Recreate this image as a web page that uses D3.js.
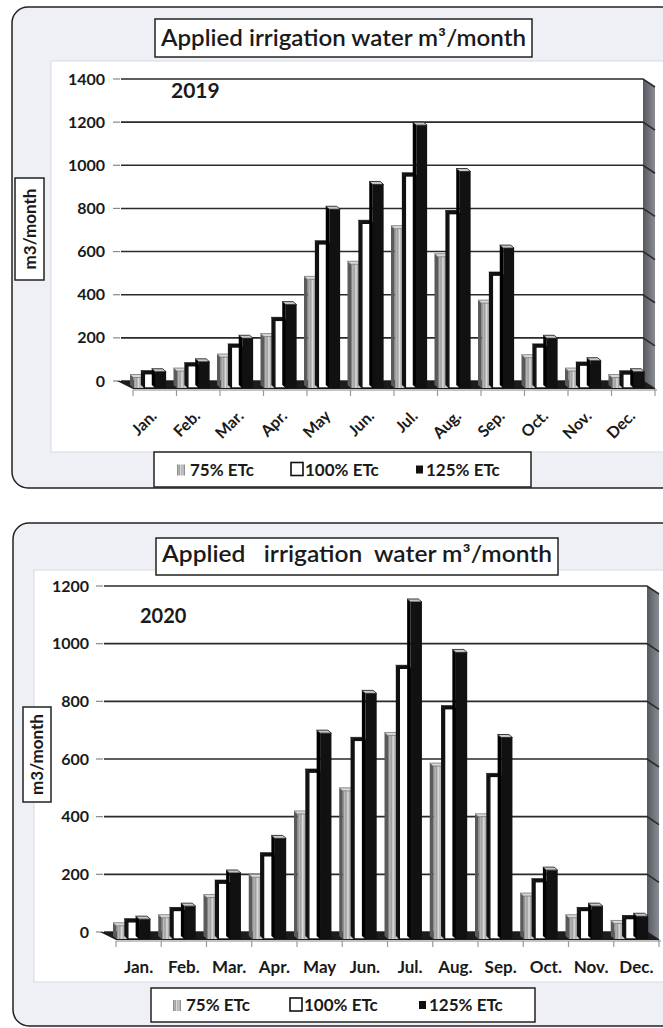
<!DOCTYPE html>
<html>
<head>
<meta charset="utf-8">
<script src="https://cdn.jsdelivr.net/npm/d3@7"></script>
<style>
  body { margin: 0; background: #ffffff; }
  text { font-family: Lato, "Open Sans", sans-serif; fill: #1a1a1a; }
</style>
</head>
<body>
<script>
// ---- data ----
var months = ["Jan.", "Feb.", "Mar.", "Apr.", "May", "Jun.", "Jul.", "Aug.", "Sep.", "Oct.", "Nov.", "Dec."];
var seriesNames = ["75% ETc", "100% ETc", "125% ETc"];

var etc75_2019  = [30, 60, 125, 220, 485, 555, 720, 590, 375, 122, 60, 30];
var etc100_2019 = [48, 85, 172, 295, 650, 745, 965, 790, 505, 172, 88, 47];
var etc125_2019 = [57, 103, 212, 368, 810, 925, 1200, 985, 630, 212, 108, 57];

var etc75_2020  = [32, 60, 130, 200, 420, 500, 692, 586, 410, 135, 60, 40];
var etc100_2020 = [46, 85, 180, 275, 565, 675, 925, 785, 550, 185, 85, 57];
var etc125_2020 = [55, 100, 215, 335, 700, 838, 1155, 980, 685, 225, 100, 65];

var yTicks2019 = [0, 200, 400, 600, 800, 1000, 1200, 1400];
var yTicks2020 = [0, 200, 400, 600, 800, 1000, 1200];

var title2019 = "Applied irrigation water m\u00B3/month";
var title2020 = "Applied   irrigation  water m\u00B3/month";
var yTitle = "m3/month";

var svg = d3.select("body").append("svg")
   .attr("width", 663)
   .attr("height", 1028);

var defs = svg.append("defs");
var gg = defs.append("linearGradient").attr("id", "grayBar")
   .attr("x1", 0).attr("x2", 1).attr("y1", 0).attr("y2", 0);
[[0, "#6e6e6e"], [0.15, "#b9b9b9"], [0.3, "#9c9c9c"], [0.45, "#dedede"], [0.6, "#ababab"],
 [0.75, "#d0d0d0"], [0.9, "#9a9a9a"], [1, "#7a7a7a"]].forEach(function (s) {
   gg.append("stop").attr("offset", s[0]).attr("stop-color", s[1]);
});
var wg = defs.append("linearGradient").attr("id", "wallGrad")
   .attr("x1", 0).attr("x2", 1).attr("y1", 0).attr("y2", 0);
wg.append("stop").attr("offset", 0).attr("stop-color", "#55585e");
wg.append("stop").attr("offset", 1).attr("stop-color", "#8a8d93");

function drawChart(c) {
   var g = svg.append("g");
   var y = d3.scaleLinear().domain([0, c.yMax]).range([c.y0, c.yTop]);
   var x = d3.scaleBand().domain(months)
      .range([c.backL + c.dx, c.backR + c.dx]);
   var bw = x.bandwidth() * 0.25;

   // outer frame + plot area
   g.append("rect")
    .attr("x", c.outer[0]).attr("y", c.outer[1])
    .attr("width", c.outer[2]).attr("height", c.outer[3])
    .attr("rx", 16)
    .attr("fill", "#eef0f6").attr("stroke", "#222").attr("stroke-width", 1.5);
   g.append("rect")
    .attr("x", c.plot[0]).attr("y", c.plot[1])
    .attr("width", c.plot[2]).attr("height", c.plot[3])
    .attr("fill", "#fff").attr("stroke", "#d6d9e0");

   // right side wall
   g.append("polygon")
    .attr("points", [[c.backR, c.yTop], [c.backR + c.dx, c.yTop + c.dy],
                     [c.backR + c.dx, c.y0 + c.dy], [c.backR, c.y0]].join(" "))
    .attr("fill", "url(#wallGrad)");

   // gridlines on back wall and wall
   g.selectAll(".grid").data(c.yTicks).enter().append("path")
    .attr("class", "grid")
    .attr("d", function (d) {
       return "M" + c.backL + "," + y(d) + "H" + c.backR + "l" + c.dx + "," + c.dy;
    })
    .attr("fill", "none").attr("stroke", "#2a2a2a").attr("stroke-width", 1.6);

   g.selectAll(".ytick").data(c.yTicks).enter().append("line")
    .attr("x1", c.backL - 8).attr("x2", c.backL - 1)
    .attr("y1", function (d) { return y(d); })
    .attr("y2", function (d) { return y(d); })
    .attr("stroke", "#888").attr("stroke-width", 1.2);

   g.selectAll(".ylab").data(c.yTicks).enter().append("text")
    .attr("x", c.labelX).attr("y", function (d) { return y(d) + 5.5; })
    .attr("text-anchor", "end")
    .style("font-size", "16px").style("font-weight", 700)
    .text(function (d) { return d; });

   // floor
   g.append("polygon")
    .attr("points", [[c.backL - 4, c.y0], [c.backR, c.y0], [c.backR + c.dx, c.y0 + c.dy],
                     [c.backL + c.dx, c.y0 + c.dy]].join(" "))
    .attr("fill", "#1c1c1c");
   g.append("line")
    .attr("x1", c.backL + c.dx).attr("x2", c.backR + c.dx + 2)
    .attr("y1", c.y0 + c.dy + 1).attr("y2", c.y0 + c.dy + 1)
    .attr("stroke", "#888").attr("stroke-width", 1.2);
   g.selectAll(".xtick").data(months.concat(["end"])).enter().append("line")
    .attr("x1", function (d, i) { return c.backL + c.dx + i * x.step(); })
    .attr("x2", function (d, i) { return c.backL + c.dx + i * x.step(); })
    .attr("y1", c.y0 + c.dy + 1).attr("y2", c.y0 + c.dy + 7)
    .attr("stroke", "#999").attr("stroke-width", 1.2);

   // bars
   var bars = [];
   months.forEach(function (m, i) {
      c.values.forEach(function (arr, s) {
         bars.push({month: m, s: s, v: arr[i]});
      });
   });
   var faces = {
      front: ["url(#grayBar)", "#ffffff", "#111111"],
      side:  ["#5a5a5a", "#111111", "#000000"],
      top:   ["#d8d8d8", "#111111", "#c8c8c8"]
   };
   var ox = -3.5, oy = -3;
   var bg = g.selectAll(".bar").data(bars).enter().append("g").attr("class", "bar");
   function bx(d) { return x(d.month) + 0.5 + d.s * bw; }
   function top(d) { return y(d.v) + 3; }
   var bottom = c.y0 + c.dy - 1;
   bg.append("polygon")
    .attr("points", function (d) {
       var a = bx(d), t = top(d);
       return [[a, t], [a + ox, t + oy], [a + ox, bottom + oy], [a, bottom]].join(" ");
    })
    .attr("fill", function (d) { return faces.side[d.s]; });
   bg.append("rect")
    .attr("x", bx).attr("y", top)
    .attr("width", bw).attr("height", function (d) { return bottom - top(d); })
    .attr("fill", function (d) { return faces.front[d.s]; })
    .attr("stroke", function (d) { return d.s === 1 ? "#111" : "none"; })
    .attr("stroke-width", 1.4);
   bg.append("polygon")
    .attr("points", function (d) {
       var a = bx(d), t = top(d);
       return [[a, t], [a + bw, t], [a + bw + ox, t + oy], [a + ox, t + oy]].join(" ");
    })
    .attr("fill", function (d) { return faces.top[d.s]; })
    .attr("stroke", function (d) { return d.s === 0 ? "#777" : "#111"; })
    .attr("stroke-width", 0.8);

   // month labels
   g.selectAll(".xlab").data(months).enter().append("text")
    .attr("transform", function (d) {
       var cx = x(d) + x.bandwidth() / 2;
       if (c.rotate) return "translate(" + (cx + c.xlabDx) + "," + c.xlabY + ") rotate(-45)";
       return "translate(" + cx + "," + c.xlabY + ")";
    })
    .attr("text-anchor", c.rotate ? "end" : "middle")
    .style("font-size", c.rotate ? "16px" : "17px").style("font-weight", 700)
    .text(function (d) { return d; });

   // year
   g.append("text")
    .attr("x", c.year[0]).attr("y", c.year[1])
    .style("font-size", c.year[3]).style("font-weight", 700)
    .text(c.year[2]);

   // title
   g.append("rect")
    .attr("x", c.title[0]).attr("y", c.title[1])
    .attr("width", c.title[2]).attr("height", c.title[3])
    .attr("fill", "#fff").attr("stroke", "#222").attr("stroke-width", 1.5);
   g.append("text")
    .attr("x", c.title[0] + c.title[2] / 2).attr("y", c.title[4])
    .attr("text-anchor", "middle")
    .style("font-size", "22px").style("font-weight", 600)
    .style("white-space", "pre")
    .attr("textLength", c.title[2] - 12).attr("lengthAdjust", "spacingAndGlyphs")
    .text(c.titleText);

   // y axis title
   g.append("rect")
    .attr("x", c.ybox[0]).attr("y", c.ybox[1])
    .attr("width", c.ybox[2]).attr("height", c.ybox[3])
    .attr("fill", "#fff").attr("stroke", "#222").attr("stroke-width", 1.5);
   g.append("text")
    .attr("transform", "translate(" + (c.ybox[0] + c.ybox[2] / 2 + 6) + "," + (c.ybox[1] + c.ybox[3] / 2) + ") rotate(-90)")
    .attr("text-anchor", "middle")
    .style("font-size", "17px").style("font-weight", 700)
    .text(yTitle);

   // legend
   var L = c.legend;
   g.append("rect")
    .attr("x", L[0]).attr("y", L[1]).attr("width", L[2]).attr("height", L[3])
    .attr("fill", "#fff").attr("stroke", "#222").attr("stroke-width", 1.5);
   var ly = L[1] + L[3] / 2;
   var items = g.selectAll(".leg").data(seriesNames).enter().append("g")
    .attr("transform", function (d, i) { return "translate(" + L[4][i] + "," + ly + ")"; });
   items.append("rect")
    .attr("x", function (d, i) { return [0, -1, 3][i]; })
    .attr("y", function (d, i) { return [-5, -7, -4][i]; })
    .attr("width", function (d, i) { return [8, 12, 7][i]; })
    .attr("height", function (d, i) { return [11, 13, 8][i]; })
    .attr("fill", function (d, i) { return ["url(#grayBar)", "#fff", "#111"][i]; })
    .attr("stroke", function (d, i) { return i === 1 ? "#111" : "none"; })
    .attr("stroke-width", 1.6);
   items.append("text")
    .attr("x", 13)
    .attr("y", 6)
    .style("font-size", "17px").style("font-weight", 700)
    .text(function (d) { return d; });
}

drawChart({
   values: [etc75_2019, etc100_2019, etc125_2019],
   yTicks: yTicks2019, yMax: 1400,
   y0: 381, yTop: 79, backL: 121, backR: 643, dx: 12, dy: 8,
   labelX: 105,
   outer: [12, 7, 720, 481], plot: [51, 61, 700, 391],
   title: [155, 19, 377, 38, 46], titleText: title2019,
   ybox: [15, 178, 29, 102],
   year: [171, 98, "2019", "21px"],
   rotate: true, xlabDx: 3, xlabY: 417,
   legend: [154, 452, 377, 35, [177, 292, 413]]
});

drawChart({
   values: [etc75_2020, etc100_2020, etc125_2020],
   yTicks: yTicks2020, yMax: 1200,
   y0: 932, yTop: 586, backL: 104, backR: 647, dx: 12, dy: 8,
   labelX: 89,
   outer: [13, 523, 720, 503], plot: [34, 570, 700, 412],
   title: [156, 538, 402, 37, 562], titleText: title2020,
   ybox: [23, 707, 28, 95],
   year: [140, 623, "2020", "20px"],
   rotate: false, xlabY: 973,
   legend: [151, 988, 384, 34, [173, 291, 416]]
});
</script>
</body>
</html>
